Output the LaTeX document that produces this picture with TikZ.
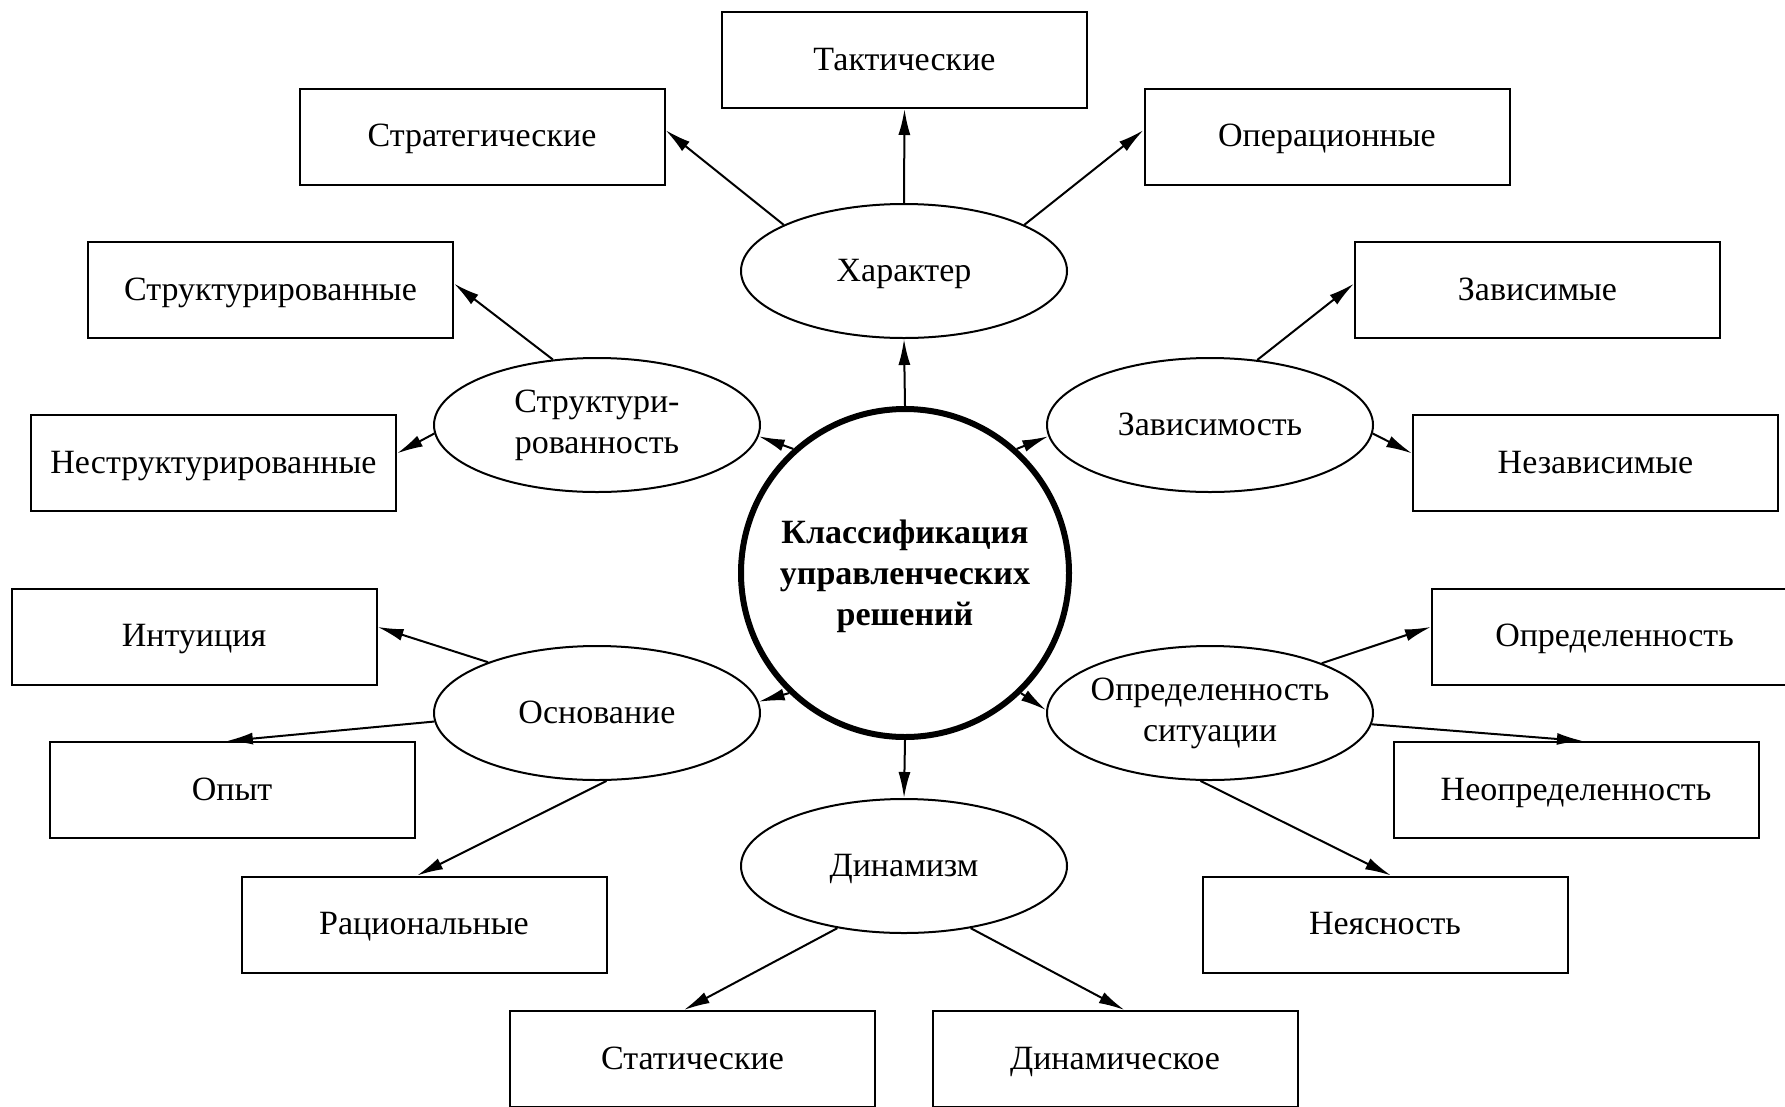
\documentclass[tikz,border=0pt]{standalone}
\usepackage{fontspec}
\setmainfont{Liberation Serif}
\usetikzlibrary{arrows.meta,shapes.geometric}
\begin{document}
\begin{tikzpicture}[x=1pt, y=-1pt,
    box/.style = {draw, line width=2pt, rectangle, minimum width=365pt, minimum height=96pt, inner sep=0pt, text height=26pt, text depth=6pt},
    oval/.style = {draw, line width=2pt, ellipse, minimum width=326pt, minimum height=134pt, inner xsep=-15pt, inner ysep=0pt, align=center},
    oneline/.style = {text height=26pt, text depth=6pt},
    arr/.style = {-{Latex[length=26pt,width=12pt]}, line width=2pt},
    every node/.style = {font=\fontsize{34}{41}\selectfont}]
        \useasboundingbox (0,0) rectangle (1785,1106);
        % centre
        \node[draw, circle, line width=6pt, minimum size=328pt, align=center, font=\fontsize{34}{41}\selectfont\bfseries] (cls) at (905, 573) {\rule{0pt}{31pt}Классификация\\управленческих\\решений};
        % criteria
        \node[oval, oneline] (har) at (904, 271) {Характер};
        \node[oval] (strk) at (597, 425) {Структури-\\рованность};
        \node[oval, oneline] (zavis) at (1210, 425) {Зависимость};
        \node[oval, oneline] (osn) at (597, 713) {Основание};
        \node[oval] (oprs) at (1210, 713) {Определенность\\ситуации};
        \node[oval, oneline] (dinz) at (904, 866) {Динамизм};
        % types
        \node[box] (tact) at (904.5, 60) {Тактические};
        \node[box] (strat) at (482, 136.5) {Стратегические};
        \node[box] (oper) at (1327, 136.5) {Операционные};
        \node[box] (struc) at (270.5, 290) {Структурированные};
        \node[box] (nestruc) at (213.5, 463) {Неструктурированные};
        \node[box] (zav) at (1537.5, 290) {Зависимые};
        \node[box] (nezav) at (1595.5, 463) {Независимые};
        \node[box] (intu) at (194, 636.5) {Интуиция};
        \node[box] (opyt) at (232, 790) {Опыт};
        \node[box] (racio) at (424, 924.5) {Рациональные};
        \node[box] (opr) at (1614.5, 636.5) {Определенность};
        \node[box] (neopr) at (1576, 790) {Неопределенность};
        \node[box] (neyas) at (1385, 924.5) {Неясность};
        \node[box] (stat) at (692.5, 1059) {Статические};
        \node[box] (dinam) at (1115, 1059) {Динамическое};
        % arrows
        \draw[arr] (cls.north) -- (har.south);
        \draw[arr] (cls.132) -- (strk.356);
        \draw[arr] (cls.48) -- (zavis.184);
        \draw[arr] (cls.226) -- (osn.4);
        \draw[arr] (cls.314) -- (oprs.179);
        \draw[arr] (cls.south) -- (dinz.north);
        \draw[arr] (har.north) -- (tact.south);
        \draw[arr] (har.159) -- (strat.2);
        \draw[arr] (har.21) -- (oper.178);
        \draw[arr] (strk.124) -- (struc.2);
        \draw[arr] (strk.183) -- (nestruc.3);
        \draw[arr] (zavis.54) -- (zav.178);
        \draw[arr] (zavis.357) -- (nezav.177);
        \draw[arr] (osn.155) -- (intu.3);
        \draw[arr] (osn.183) -- (opyt.96);
        \draw[arr] (osn.278) -- (racio.98);
        \draw[arr] (oprs.24) -- (opr.177);
        \draw[arr] (oprs.356.5) -- (neopr.82);
        \draw[arr] (oprs.262.5) -- (neyas.83);
        \draw[arr] (dinz.223) -- (stat.100);
        \draw[arr] (dinz.317) -- (dinam.79);
\end{tikzpicture}
\end{document}
